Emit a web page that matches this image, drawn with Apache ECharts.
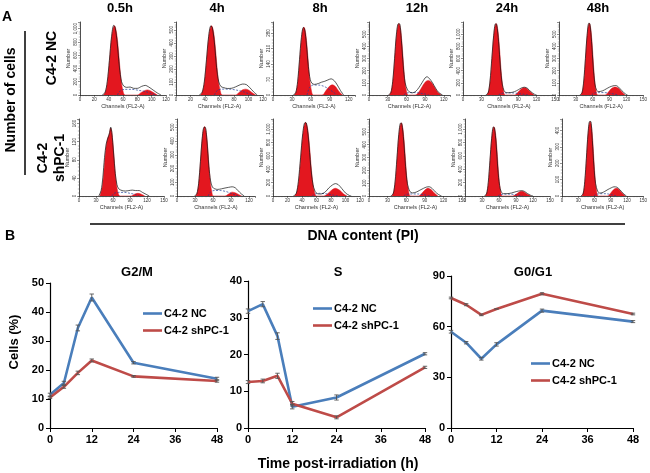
<!DOCTYPE html>
<html><head><meta charset="utf-8">
<script src="https://cdn.jsdelivr.net/npm/echarts@6/dist/echarts.min.js"></script>
<style>html,body{margin:0;padding:0;background:#fff}#c{width:650px;height:473px}</style>
</head><body><div id="c"></div>
<script>
// ---------- Panel B data ----------
const hours = [0, 4, 8, 12, 24, 48];
const seriesNames = ['C4-2 NC', 'C4-2 shPC-1'];
const g2mNC = [11.5, 15.5, 34.5, 45.0, 22.5, 17.0];
const g2mNCErr = [0.5, 0.6, 1.0, 1.2, 0.4, 0.5];
const g2mSh = [10.5, 14.2, 19.0, 23.3, 17.8, 16.2];
const g2mShErr = [0.3, 0.5, 0.6, 0.5, 0.3, 0.4];
const sNC = [31.8, 33.7, 25.0, 5.8, 8.3, 20.2];
const sNCErr = [0.6, 0.7, 0.9, 0.6, 0.7, 0.3];
const sSh = [12.5, 12.8, 14.2, 6.6, 2.9, 16.5];
const sShErr = [0.4, 0.5, 0.7, 0.6, 0.4, 0.3];
const g1NC = [57.0, 50.5, 41.0, 49.5, 69.5, 63.0];
const g1NCErr = [0.8, 0.7, 0.8, 1.0, 0.9, 0.6];
const g1Sh = [77.0, 73.0, 67.0, 70.5, 79.5, 67.5];
const g1ShErr = [0.5, 0.6, 0.5, 0.0, 0.6, 0.5];
const panelTitles = ['G2/M', 'S', 'G0/G1'];

// ---------- Panel A data (flow histograms, channel/count pairs) ----------
const timeLabels = ['0.5h', '4h', '8h', '12h', '24h', '48h'];
const rowLabels = ['C4-2 NC', 'C4-2\nshPC-1'];
const yTopNC = [1100, 560, 330, 600, 1200, 600];
const yIntNC = [200, 100, 70, 100, 200, 100];
const xMaxNC = [120, 120, 130, 130, 150, 150];
const xIntNC = [20, 20, 30, 30, 30, 30];
const yTopSh = [170, 560, 1150, 600, 1150, 470];
const yIntSh = [40, 100, 200, 100, 200, 100];
const xMaxSh = [150, 130, 120, 150, 150, 150];
const xIntSh = [30, 30, 20, 30, 30, 30];

const redNC = [
 [[33,0],[36,60],[39,260],[42,630],[45,940],[48,1045],[51,940],[54,630],[57,260],[60,60],[63,0],[80,0],[85,35],[90,65],[94,77],[98,65],[103,33],[108,0]],
 [[34,0],[37,32],[40,133],[43,320],[46,480],[49,532],[52,480],[55,320],[58,133],[61,32],[64,0],[82,0],[87,20],[92,40],[96,45],[100,38],[105,18],[110,0]],
 [[34,0],[37,18],[40,77],[43,184],[46,276],[49,307],[52,276],[55,184],[58,77],[61,18],[64,0],[78,0],[84,20],[89,38],[94,46],[99,38],[104,18],[110,0]],
 [[33,0],[36,35],[39,147],[42,353],[45,530],[48,588],[51,530],[54,353],[57,147],[60,35],[63,0],[74,0],[80,25],[85,65],[90,105],[95,120],[100,105],[105,65],[110,25],[116,0]],
 [[39,0],[42,70],[45,294],[48,706],[51,1058],[54,1176],[57,1058],[60,706],[63,294],[66,70],[69,0],[84,0],[90,50],[95,100],[100,120],[105,100],[110,50],[116,0]],
 [[39,0],[42,35],[45,148],[48,354],[51,531],[54,590],[57,531],[60,354],[63,148],[66,35],[69,0],[82,0],[88,25],[94,55],[100,66],[106,55],[112,25],[118,0]]
];
const blackNC = [
 [[31,0],[35,40],[38,200],[41,520],[44,880],[47,1050],[49,1020],[52,780],[55,420],[58,200],[61,135],[65,115],[70,120],[75,100],[80,100],[86,130],[91,145],[96,120],[102,75],[108,30],[113,0]],
 [[32,0],[36,20],[39,100],[42,270],[45,450],[48,530],[50,520],[53,400],[56,210],[59,100],[62,65],[66,56],[71,50],[77,52],[82,62],[87,75],[92,84],[97,80],[102,55],[107,25],[112,0]],
 [[32,0],[36,10],[39,60],[42,160],[45,260],[48,305],[50,300],[53,230],[56,130],[59,70],[62,52],[66,48],[72,52],[77,58],[82,62],[87,68],[92,73],[97,65],[102,45],[107,20],[112,0]],
 [[31,0],[35,18],[38,110],[41,300],[44,500],[47,585],[49,585],[52,450],[55,240],[58,100],[62,40],[66,22],[70,18],[75,30],[80,60],[85,100],[90,140],[93,150],[97,135],[102,100],[107,55],[112,20],[118,0]],
 [[37,0],[41,35],[44,230],[47,600],[50,980],[53,1170],[55,1160],[58,880],[61,460],[64,180],[67,70],[71,38],[78,40],[84,55],[90,85],[95,115],[100,128],[105,110],[110,60],[116,15],[120,0]],
 [[37,0],[41,18],[44,115],[47,300],[50,490],[53,590],[55,585],[58,440],[61,230],[64,90],[67,38],[71,28],[78,35],[84,50],[90,65],[96,75],[101,78],[106,65],[112,35],[118,10],[122,0]]
];
const blueNC = [
 [[52,0],[56,60],[62,85],[72,85],[82,70],[92,50],[100,20],[106,0]],
 [[53,0],[57,35],[63,45],[73,45],[83,38],[93,25],[100,10],[105,0]],
 [[54,0],[58,35],[64,45],[72,45],[80,40],[88,28],[96,12],[102,0]],
 [[56,0],[60,15],[66,20],[74,20],[82,15],[90,8],[96,0]],
 [[58,0],[62,25],[70,35],[80,35],[90,25],[100,10],[106,0]],
 [[58,0],[62,15],[70,20],[80,20],[90,15],[100,6],[106,0]]
];
const redSh = [
 [[37,0],[41,20],[44,55],[47,100],[50,125],[53,135],[56,150],[58,140],[61,100],[64,50],[67,18],[70,3],[73,0],[92,0],[98,4],[104,6],[110,4],[116,0]],
 [[31,0],[34,30],[37,126],[40,303],[43,455],[46,505],[49,455],[52,303],[55,126],[58,30],[61,0],[80,0],[86,15],[92,28],[98,22],[104,8],[108,0]],
 [[30,0],[33,66],[36,275],[39,660],[42,990],[45,1100],[48,990],[51,660],[54,275],[57,66],[60,0],[70,0],[75,30],[80,80],[86,115],[92,85],[97,35],[102,0]],
 [[37,0],[40,34],[43,142],[46,342],[49,513],[52,570],[55,513],[58,342],[61,142],[64,34],[67,0],[80,0],[86,25],[91,50],[95,60],[100,50],[105,25],[111,0]],
 [[36,0],[39,62],[42,259],[45,621],[48,932],[51,1035],[54,932],[57,621],[60,259],[63,62],[66,0],[84,0],[90,25],[95,55],[100,70],[105,55],[110,25],[116,0]],
 [[37,0],[40,27],[43,114],[46,273],[49,410],[52,455],[55,410],[58,273],[61,114],[64,27],[67,0],[84,0],[90,18],[95,38],[100,47],[105,40],[111,18],[117,0]]
];
const blackSh = [
 [[35,0],[39,12],[42,40],[45,85],[48,115],[51,128],[54,140],[56,152],[58,140],[61,95],[64,50],[67,25],[70,16],[76,12],[82,11],[88,12],[94,13],[100,12],[106,12],[112,8],[118,4],[124,0]],
 [[29,0],[33,15],[36,90],[39,250],[42,420],[45,500],[47,500],[50,400],[53,220],[56,110],[59,65],[63,52],[68,48],[74,52],[80,58],[86,63],[92,67],[97,60],[102,38],[107,16],[112,0]],
 [[28,0],[32,35],[35,220],[38,570],[41,930],[44,1095],[46,1090],[49,850],[52,450],[55,180],[58,70],[62,32],[66,30],[72,60],[77,120],[82,165],[86,185],[90,170],[95,110],[100,45],[105,10],[108,0]],
 [[35,0],[39,17],[42,110],[45,290],[48,480],[51,568],[53,565],[56,430],[59,230],[62,95],[66,35],[70,24],[76,30],[82,45],[88,60],[93,70],[97,72],[102,58],[107,32],[112,12],[117,0]],
 [[34,0],[38,30],[41,200],[44,530],[47,860],[50,1030],[52,1020],[55,780],[58,400],[61,160],[64,60],[68,35],[74,35],[82,45],[88,60],[95,75],[100,80],[105,68],[110,38],[116,10],[120,0]],
 [[35,0],[39,14],[42,90],[45,230],[48,380],[51,455],[53,455],[56,340],[59,180],[62,75],[66,28],[70,18],[74,20],[79,28],[85,40],[91,50],[96,56],[101,54],[107,38],[113,15],[119,0]]
];
const blueSh = [
 [[58,0],[62,6],[70,8],[80,8],[90,6],[100,3],[106,0]],
 [[52,0],[56,30],[62,40],[72,40],[82,32],[90,20],[98,6],[102,0]],
 [[54,0],[58,30],[64,40],[72,35],[80,20],[88,5],[92,0]],
 [[56,0],[60,12],[68,16],[78,16],[88,10],[96,3],[100,0]],
 [[58,0],[62,20],[70,28],[80,28],[90,18],[98,6],[102,0]],
 [[59,0],[63,10],[71,14],[81,14],[91,8],[99,2],[103,0]]
];

// ---------- layout ----------
const histRows = [
  {top: 22, height: 73, lefts: [80,176,273,369,463,559], widths: [86,87,82,81,92,89]},
  {top: 119, height: 77, lefts: [79,177,273,369,465,562], widths: [85,78,87,93,85,86]}
];
const RED = '#e3171f', BLUE_H = '#1f3d9a';
const C_NC = '#4a7ebb', C_SH = '#be4b48';
const FONT = 'Liberation Sans, Arial, sans-serif';

const grid = [], xAxis = [], yAxis = [], series = [];
const rowData = [
  {red: redNC, black: blackNC, blue: blueNC, yTop: yTopNC, yInt: yIntNC, xMax: xMaxNC, xInt: xIntNC},
  {red: redSh, black: blackSh, blue: blueSh, yTop: yTopSh, yInt: yIntSh, xMax: xMaxSh, xInt: xIntSh}
];
rowData.forEach((rd, r) => {
  const L = histRows[r];
  for (let c = 0; c < 6; c++) {
    const gi = grid.length;
    grid.push({left: L.lefts[c], top: L.top, width: L.widths[c], height: L.height, containLabel: false});
    xAxis.push({type: 'value', gridIndex: gi, min: 0, max: rd.xMax[c], interval: rd.xInt[c],
      axisLine: {lineStyle: {color: '#222', width: 0.8}},
      axisTick: {length: 2, lineStyle: {color: '#222', width: 0.5}},
      minorTick: {show: true, splitNumber: 5, length: 1.2, lineStyle: {color: '#444', width: 0.4}},
      axisLabel: {fontSize: 4.5, margin: 2, color: '#333', fontFamily: FONT, showMaxLabel: rd.xMax[c] % rd.xInt[c] === 0},
      splitLine: {show: false},
      name: 'Channels (FL2-A)', nameLocation: 'middle', nameGap: 8,
      nameTextStyle: {fontSize: 5.5, color: '#333', fontFamily: FONT}});
    yAxis.push({type: 'value', gridIndex: gi, min: 0, max: rd.yTop[c], interval: rd.yInt[c],
      axisLine: {show: true, lineStyle: {color: '#222', width: 0.8}},
      axisTick: {show: true, length: 2, lineStyle: {color: '#222', width: 0.5}},
      minorTick: {show: true, splitNumber: 5, length: 1.2, lineStyle: {color: '#444', width: 0.4}},
      axisLabel: {fontSize: 4.5, margin: 2, rotate: 90, color: '#333', fontFamily: FONT, showMaxLabel: false},
      splitLine: {show: false},
      name: 'Number', nameLocation: 'middle', nameGap: 9, nameRotate: 90,
      nameTextStyle: {fontSize: 5.5, color: '#333', fontFamily: FONT}});
    series.push({type: 'line', xAxisIndex: gi, yAxisIndex: gi, data: rd.red[c], smooth: 0.35,
      symbol: 'none', silent: true, lineStyle: {color: RED, width: 0.5},
      areaStyle: {color: RED, opacity: 1}, z: 2});
    series.push({type: 'line', xAxisIndex: gi, yAxisIndex: gi, data: rd.blue[c], smooth: 0.3,
      symbol: 'none', silent: true, lineStyle: {color: BLUE_H, width: 0.7, type: [2, 1.5]}, z: 3});
    series.push({type: 'line', xAxisIndex: gi, yAxisIndex: gi, data: rd.black[c], smooth: 0.3,
      symbol: 'none', silent: true, lineStyle: {color: '#111', width: 0.7}, z: 4});
  }
});

// ---------- Panel B ----------
const bGrids = [
  {left: 50, top: 283, width: 167, height: 145, max: 50, interval: 10},
  {left: 248, top: 281, width: 177, height: 147, max: 40, interval: 10},
  {left: 451, top: 276, width: 182, height: 152, max: 90, interval: 30}
];
const bData = [[g2mNC, g2mNCErr, g2mSh, g2mShErr], [sNC, sNCErr, sSh, sShErr], [g1NC, g1NCErr, g1Sh, g1ShErr]];
const legendPos = [{left: 138, top: 303}, {left: 308, top: 298}, {left: 526, top: 353}];
const legends = [];
function errSeries(means, errs, gi) {
  const data = hours.map((h, i) => [h, means[i] - errs[i], means[i] + errs[i]]);
  return {type: 'custom', xAxisIndex: gi, yAxisIndex: gi, data: data, silent: true, z: 6,
    encode: {x: 0, y: [1, 2]},
    renderItem: function (params, api) {
      const x = api.value(0), p1 = api.coord([x, api.value(1)]), p2 = api.coord([x, api.value(2)]);
      const w = 2.2, st = {stroke: '#555', lineWidth: 0.9};
      return {type: 'group', children: [
        {type: 'line', shape: {x1: p1[0], y1: p1[1], x2: p2[0], y2: p2[1]}, style: st},
        {type: 'line', shape: {x1: p1[0] - w, y1: p1[1], x2: p1[0] + w, y2: p1[1]}, style: st},
        {type: 'line', shape: {x1: p2[0] - w, y1: p2[1], x2: p2[0] + w, y2: p2[1]}, style: st}]};
    }};
}
bGrids.forEach((g, k) => {
  const gi = grid.length;
  grid.push({left: g.left, top: g.top, width: g.width, height: g.height});
  xAxis.push({type: 'value', gridIndex: gi, min: 0, max: 48, interval: 12,
    axisLine: {lineStyle: {color: '#000', width: 1.2}},
    axisTick: {length: 4, lineStyle: {color: '#000', width: 1}},
    axisLabel: {fontSize: 11, fontWeight: 'bold', color: '#000', margin: 6, fontFamily: FONT},
    splitLine: {show: false}});
  yAxis.push({type: 'value', gridIndex: gi, min: 0, max: g.max, interval: g.interval,
    axisLine: {show: true, lineStyle: {color: '#000', width: 1.2}},
    axisTick: {show: true, length: 4, lineStyle: {color: '#000', width: 1}},
    axisLabel: {fontSize: 11, fontWeight: 'bold', color: '#000', margin: 6, fontFamily: FONT},
    splitLine: {show: false}});
  const d = bData[k];
  series.push({name: seriesNames[0], type: 'line', xAxisIndex: gi, yAxisIndex: gi,
    data: hours.map((h, i) => [h, d[0][i]]), color: C_NC, symbol: 'none',
    lineStyle: {color: C_NC, width: 2.6}, z: 5});
  series.push({name: seriesNames[1], type: 'line', xAxisIndex: gi, yAxisIndex: gi,
    data: hours.map((h, i) => [h, d[2][i]]), color: C_SH, symbol: 'none',
    lineStyle: {color: C_SH, width: 2.6}, z: 5});
  series.push(errSeries(d[0], d[1], gi));
  series.push(errSeries(d[2], d[3], gi));
  legends.push({data: seriesNames, orient: 'vertical', left: legendPos[k].left, top: legendPos[k].top,
    icon: 'rect', itemWidth: 19, itemHeight: 2.6, itemGap: 6, selectedMode: false,
    textStyle: {fontSize: 11, fontWeight: 'bold', color: '#000', fontFamily: FONT, padding: [0, 0, 0, -3]}});
});

// ---------- annotations ----------
const tb = (txt, x, y, size, extra) => Object.assign({type: 'text', x: x, y: y,
  style: {text: txt, fill: '#000', font: 'bold ' + size + 'px ' + FONT, textAlign: 'center', textVerticalAlign: 'middle'}}, extra || {});
const colCenters = [120, 217, 320, 417, 507, 598];
const graphics = [
  tb('A', 7, 17, 14), tb('B', 10, 236, 14),
  tb('Number of cells', 11, 100, 14, {rotation: Math.PI / 2}),
  {type: 'line', shape: {x1: 25, y1: 31, x2: 25, y2: 175}, style: {stroke: '#000', lineWidth: 1.5}},
  tb(rowLabels[0], 52, 58, 14, {rotation: Math.PI / 2}),
  {type: 'text', x: 52, y: 158, rotation: Math.PI / 2,
    style: {text: rowLabels[1], fill: '#000', font: 'bold 14px ' + FONT, textAlign: 'center', textVerticalAlign: 'middle', lineHeight: 17}},
  {type: 'line', shape: {x1: 90, y1: 224, x2: 625, y2: 224}, style: {stroke: '#000', lineWidth: 1.5}},
  tb('DNA content (PI)', 363, 236, 14),
  tb('Cells (%)', 14, 342, 13, {rotation: Math.PI / 2}),
  tb('Time post-irradiation (h)', 338, 464, 14),
  tb(panelTitles[0], 137, 272, 13), tb(panelTitles[1], 338, 272, 13), tb(panelTitles[2], 533, 272, 13)
];
timeLabels.forEach((t, i) => graphics.push(tb(t, colCenters[i], 8, 13)));

const chart = echarts.init(document.getElementById('c'), null, {renderer: 'canvas'});
chart.setOption({
  animation: false, backgroundColor: '#fff',
  grid: grid, xAxis: xAxis, yAxis: yAxis, series: series, legend: legends,
  graphic: {elements: graphics}
});
</script></body></html>
